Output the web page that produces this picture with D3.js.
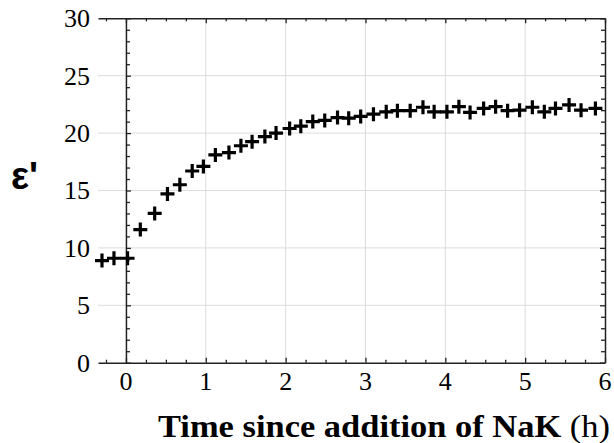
<!DOCTYPE html>
<html><head><meta charset="utf-8">
<script src="https://cdn.jsdelivr.net/npm/d3@7/dist/d3.min.js"></script>
<style>body{margin:0;background:#fff}svg{display:block}
.serif{font-family:"Liberation Serif","Times New Roman","DejaVu Serif",serif}
.sans{font-family:"Liberation Sans",Arial,"DejaVu Sans",sans-serif}</style>
</head><body>
<svg id="c" width="614" height="443"></svg>
<script>
const timeH = [-0.30,-0.15,0.02,0.18,0.36,0.52,0.675,0.83,0.97,1.12,1.29,1.44,1.58,1.74,1.88,2.05,2.19,2.34,2.49,2.65,2.79,2.94,3.10,3.26,3.40,3.56,3.72,3.86,4.02,4.17,4.31,4.48,4.63,4.78,4.93,5.09,5.24,5.38,5.55,5.70,5.88];
const epsilon = [8.9,9.1,9.1,11.6,13.0,14.7,15.5,16.7,17.1,18.1,18.3,18.9,19.25,19.7,20.0,20.4,20.6,21.0,21.1,21.35,21.3,21.45,21.65,21.85,21.95,21.95,22.25,21.85,21.85,22.3,21.8,22.15,22.3,21.95,22.0,22.25,21.85,22.15,22.45,22.0,22.15];
const xTicks = [0,1,2,3,4,5,6];
const yTicks = [0,5,10,15,20,25,30];
const xLabel = "Time since addition of NaK";
const xUnit = " (h)";

const svg = d3.select("#c");
const L = 98, R = 605, T = 18.3, B = 362.7;
const x = d3.scaleLinear().domain([-0.35, 6]).range([L, R]);
const y = d3.scaleLinear().domain([0, 30]).range([B, T]);

// gridlines
const g = svg.append("g");
g.selectAll(".gx").data(xTicks.filter(d => d > 0 && d < 6)).enter().append("line")
  .attr("x1", d => x(d)).attr("x2", d => x(d)).attr("y1", T).attr("y2", B)
  .attr("stroke", "#dcdcdc").attr("stroke-width", 1);
g.selectAll(".gy").data(yTicks.filter(d => d > 0 && d < 30)).enter().append("line")
  .attr("x1", L).attr("x2", R).attr("y1", d => y(d)).attr("y2", d => y(d))
  .attr("stroke", "#dcdcdc").attr("stroke-width", 1);

const tickStyle = sel => { sel.select(".domain").attr("stroke", "#222").attr("stroke-width", 1.5);
  sel.selectAll(".tick line").attr("stroke", "#222").attr("stroke-width", 1.3); };

const xMinor = d3.range(-0.25, 6.01, 0.25).filter(d => Math.abs(d - Math.round(d)) > 1e-6);
const yMinor = d3.range(0, 30.01, 1).filter(d => d % 5 !== 0);

function majorAxis(gen, pos, size, vals) {
  const a = svg.append("g").attr("transform", pos);
  a.call(gen.tickValues(vals).tickSize(size).tickSizeOuter(0).tickFormat("")).call(tickStyle);
}
function minorAxis(gen, pos, size, vals) {
  const a = svg.append("g").attr("transform", pos);
  a.call(gen.tickValues(vals).tickSize(size).tickSizeOuter(0).tickFormat("")).call(tickStyle);
  a.select(".domain").remove();
}
majorAxis(d3.axisTop(x), `translate(0,${B})`, 5, xTicks);
minorAxis(d3.axisTop(x), `translate(0,${B})`, 3, xMinor);
majorAxis(d3.axisBottom(x), `translate(0,${T})`, 5, xTicks);
minorAxis(d3.axisBottom(x), `translate(0,${T})`, 3, xMinor);
majorAxis(d3.axisRight(y), `translate(${x(0)},0)`, 5, yTicks);
minorAxis(d3.axisRight(y), `translate(${x(0)},0)`, 4, yMinor);
majorAxis(d3.axisLeft(y), `translate(${R},0)`, 5, yTicks);
minorAxis(d3.axisLeft(y), `translate(${R},0)`, 4, yMinor);

// tick labels
svg.append("g").selectAll("text").data(xTicks).enter().append("text").attr("class", "serif")
  .attr("x", d => x(d)).attr("y", 390).attr("text-anchor", "middle")
  .attr("font-size", 26).attr("fill", "#000").text(d => d);
svg.append("g").selectAll("text").data(yTicks).enter().append("text").attr("class", "serif")
  .attr("x", 90).attr("y", d => y(d)).attr("dy", "0.34em").attr("text-anchor", "end")
  .attr("font-size", 26).attr("fill", "#000").text(d => d);

// axis titles
const xt = svg.append("text").attr("class", "serif").attr("x", 158).attr("y", 437).attr("font-size", 32)
  .attr("fill", "#000").attr("textLength", 452).attr("lengthAdjust", "spacingAndGlyphs");
xt.append("tspan").attr("font-weight", "bold").text(xLabel);
xt.append("tspan").text(xUnit);
svg.append("text").attr("class", "sans").attr("x", 11).attr("y", 189)
  .attr("font-weight", "bold").attr("font-size", 38).attr("fill", "#000").text("ε'");

// markers
const s = 7;
svg.append("g").selectAll("path").data(timeH.map((t, i) => [t, epsilon[i]])).enter().append("path")
  .attr("d", d => `M${x(d[0]) - s},${y(d[1])}H${x(d[0]) + s}M${x(d[0])},${y(d[1]) - s}V${y(d[1]) + s}`)
  .attr("stroke", "#000").attr("stroke-width", 3.2).attr("fill", "none");
</script>
</body></html>
